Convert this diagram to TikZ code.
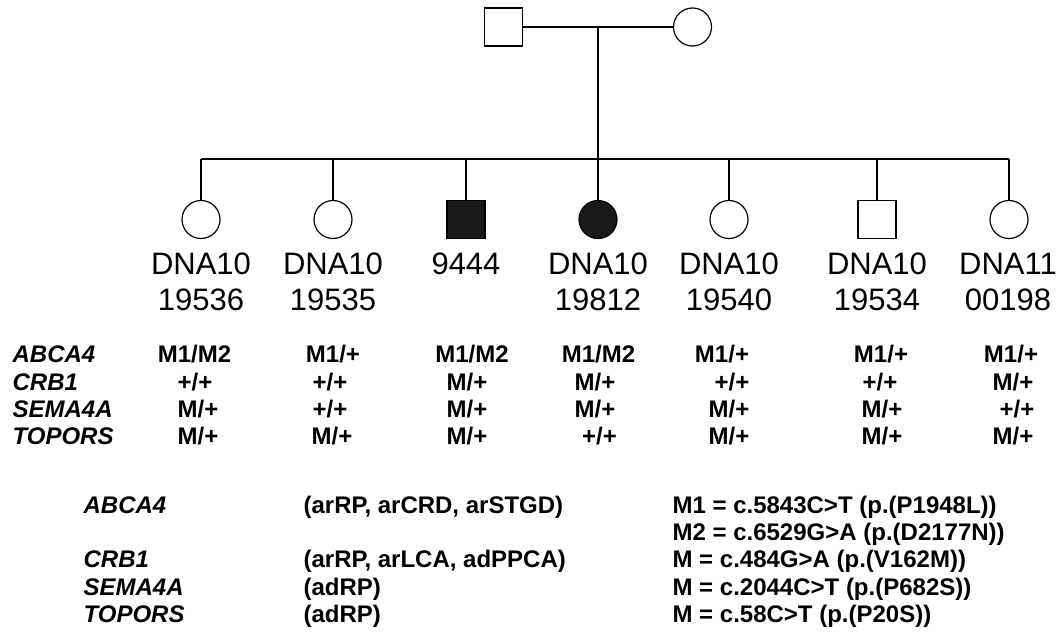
\documentclass[tikz,border=0pt]{standalone}
\usepackage{fontspec}
\setmainfont{Liberation Sans}
\usetikzlibrary{positioning}

\begin{document}
\begin{tikzpicture}[
  x=1pt, y=-1pt,
  line width=1.2pt,
  male/.style={draw, rectangle, minimum size=38pt, inner sep=0pt},
  female/.style={draw, circle, minimum size=38pt, inner sep=0pt},
  affected/.style={fill=black!90},
  idlabel/.style={font=\fontsize{31}{36}\selectfont, align=center, anchor=base, inner sep=0pt},
  gene/.style={font=\fontsize{24}{27}\selectfont\bfseries\itshape, anchor=base west, inner sep=0pt},
  geno/.style={font=\fontsize{24}{27}\selectfont\bfseries, anchor=base, inner sep=0pt},
  legend/.style={font=\fontsize{24}{27}\selectfont\bfseries, anchor=base west, inner sep=0pt}
]
\useasboundingbox (0,0) rectangle (1063,632);

% parents
\node[male] (father) at (503.5,27) {};
\node[female] (mother) at (692.5,27) {};
\draw (father) -- (mother);
\coordinate (mate) at (598,27);
\coordinate (sib) at (598,159);
\draw (mate) -- (sib);

% children
\node[female] (c1) at (201,219.5) {};
\node[female] (c2) at (333,219.5) {};
\node[male, affected] (c3) at (466,219.5) {};
\node[female, affected] (c4) at (598,219.5) {};
\node[female] (c5) at (729,219.5) {};
\node[male] (c6) at (877,219.5) {};
\node[female] (c7) at (1009,219.5) {};

\draw (c1.north |- sib) -- (c7.north |- sib);
\foreach \c in {c1,c2,c3,c4,c5,c6,c7}
  \draw (\c.north) -- (\c.north |- sib);

\node[idlabel] (id1) at (201,310) {DNA10\\19536};
\node[idlabel] (id2) at (333,310) {DNA10\\19535};
\node[idlabel] (id3) at (466,274) {9444};
\node[idlabel] (id4) at (598,310) {DNA10\\19812};
\node[idlabel] (id5) at (729,310) {DNA10\\19540};
\node[idlabel] (id6) at (877,310) {DNA10\\19534};
\node[idlabel] (id7) at (1008,310) {DNA11\\00198};

% genotypes
\node[gene] (gab) at (12,362.7) {ABCA4};
\node[gene] (gcr) at (12,390) {CRB1};
\node[gene] (gse) at (12,417) {SEMA4A};
\node[gene] (gto) at (12,444) {TOPORS};

\node[geno] (ab1) at (194.5,362.7) {M1/M2};
\node[geno] (ab2) at (333,362.7) {M1/+};
\node[geno] (ab3) at (472,362.7) {M1/M2};
\node[geno] (ab4) at (598.5,362.7) {M1/M2};
\node[geno] (ab5) at (722,362.7) {M1/+};
\node[geno] (ab6) at (881,362.7) {M1/+};
\node[geno] (ab7) at (1011,362.7) {M1/+};

\node[geno] (cr1) at (195,390) {+/+};
\node[geno] (cr2) at (330,390) {+/+};
\node[geno] (cr3) at (467,390) {M/+};
\node[geno] (cr4) at (595,390) {M/+};
\node[geno] (cr5) at (732,390) {+/+};
\node[geno] (cr6) at (880,390) {+/+};
\node[geno] (cr7) at (1013,390) {M/+};

\node[geno] (se1) at (198,417) {M/+};
\node[geno] (se2) at (330,417) {+/+};
\node[geno] (se3) at (467,417) {M/+};
\node[geno] (se4) at (595,417) {M/+};
\node[geno] (se5) at (729,417) {M/+};
\node[geno] (se6) at (882,417) {M/+};
\node[geno] (se7) at (1017,417) {+/+};

\node[geno] (to1) at (198,444) {M/+};
\node[geno] (to2) at (332,444) {M/+};
\node[geno] (to3) at (467,444) {M/+};
\node[geno] (to4) at (599.5,444) {+/+};
\node[geno] (to5) at (729,444) {M/+};
\node[geno] (to6) at (882,444) {M/+};
\node[geno] (to7) at (1013,444) {M/+};

% legend
\node[gene] (lab) at (83,513) {ABCA4};
\node[gene] (lcr) at (83,567) {CRB1};
\node[gene] (lse) at (83,595) {SEMA4A};
\node[gene] (lto) at (83,622) {TOPORS};

\node[legend] (dab) at (303,513) {(arRP, arCRD, arSTGD)};
\node[legend] (dcr) at (303,567) {(arRP, arLCA, adPPCA)};
\node[legend] (dse) at (303,595) {(adRP)};
\node[legend] (dto) at (303,622) {(adRP)};

\node[legend] (m1) at (672,513) {M1 = c.5843C>T (p.(P1948L))};
\node[legend] (m2) at (672,540) {M2 = c.6529G>A (p.(D2177N))};
\node[legend] (mcr) at (672,567) {M = c.484G>A (p.(V162M))};
\node[legend] (mse) at (672,595) {M = c.2044C>T (p.(P682S))};
\node[legend] (mto) at (672,622) {M = c.58C>T (p.(P20S))};
\end{tikzpicture}
\end{document}
